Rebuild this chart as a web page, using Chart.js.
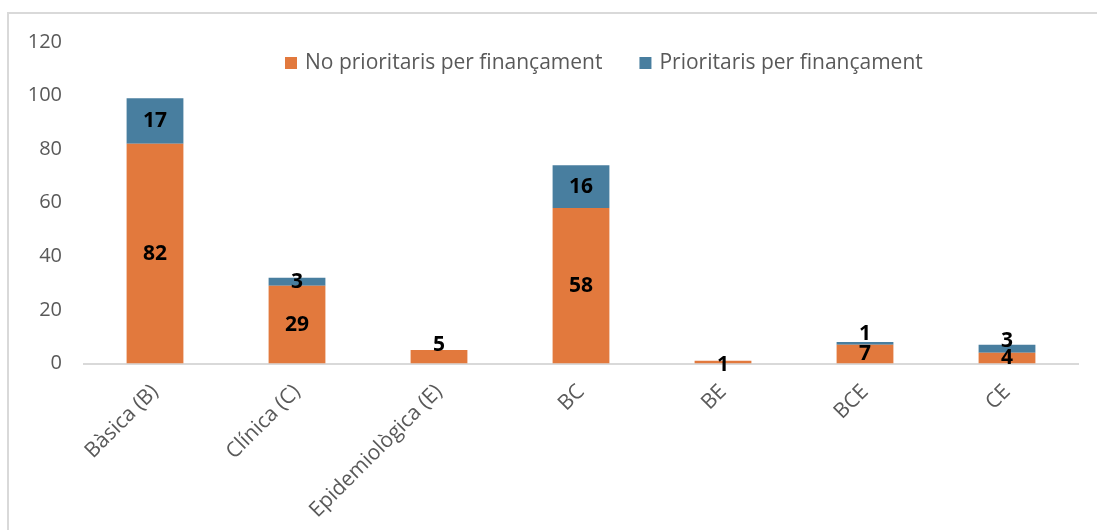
<!DOCTYPE html>
<html lang="ca">
<head>
  <meta charset="UTF-8">
  <title>Projectes per tipus de recerca</title>
  <script src="https://cdn.jsdelivr.net/npm/chart.js"></script>
  <style>
    html, body { margin: 0; padding: 0; background: #fff; overflow: hidden; }
    .marc { position: absolute; left: 7px; top: 12px; width: 1200px; height: 700px; border: 2px solid #d9d9d9; }
    .caixa { position: absolute; left: 0; top: 0; width: 1097px; height: 531px; }
  </style>
</head>
<body>
  <div class="marc"></div>
  <div class="caixa"><canvas id="grafic"></canvas></div>

  <script>
    const categories = ['Bàsica (B)', 'Clínica (C)', 'Epidemiològica (E)', 'BC', 'BE', 'BCE', 'CE'];
    const noPrioritaris = [82, 29, 5, 58, 1, 7, 4];
    const prioritaris = [17, 3, 0, 16, 0, 1, 3];
    const nomsSeries = ['No prioritaris per finançament', 'Prioritaris per finançament'];

    const taronja = '#e2793d';
    const blau = '#487e9f';
    const grisText = '#595959';

    // desplaçament vertical de les etiquetes petites (px)
    const despl = [
      [0, 0, -12, 0, 3, 0, 0],
      [0, 0, 0, 0, 0, -9, -8]
    ];

    // etiquetes de valor i llegenda dibuixades a mà
    const etiquetes = {
      id: 'etiquetes',
      afterDatasetsDraw(chart) {
        const ctx = chart.ctx;
        const area = chart.chartArea;
        ctx.save();
        ctx.font = 'bold 21px "Open Sans"';
        ctx.fillStyle = '#000';
        ctx.textAlign = 'center';
        ctx.textBaseline = 'middle';
        chart.data.datasets.forEach((ds, i) => {
          chart.getDatasetMeta(i).data.forEach((bar, j) => {
            const v = ds.data[j];
            if (!v) return;
            const mig = (bar.y + bar.base) / 2;
            ctx.fillText(v, bar.x, mig + despl[i][j]);
          });
        });

        // llegenda
        ctx.font = '21px "Open Sans"';
        ctx.textAlign = 'left';
        let x = area.left + 201;
        const y = area.top + 21;
        chart.data.datasets.forEach((ds) => {
          ctx.fillStyle = ds.backgroundColor;
          ctx.fillRect(x, y - 6, 12, 12);
          x += 20;
          ctx.fillStyle = grisText;
          ctx.fillText(ds.label, x, y);
          x += ctx.measureText(ds.label).width + 37;
        });
        ctx.restore();
      }
    };

    new Chart(document.getElementById('grafic'), {
      type: 'bar',
      data: {
        labels: categories,
        datasets: [
          {
            label: nomsSeries[0],
            data: noPrioritaris,
            backgroundColor: taronja,
            barPercentage: 0.8,
            categoryPercentage: 0.5
          },
          {
            label: nomsSeries[1],
            data: prioritaris,
            backgroundColor: blau,
            barPercentage: 0.8,
            categoryPercentage: 0.5
          }
        ]
      },
      options: {
        responsive: true,
        maintainAspectRatio: false,
        animation: false,
        layout: { autoPadding: false, padding: { top: 42, right: 19, left: 29, bottom: 0 } },
        plugins: {
          legend: { display: false },
          tooltip: { enabled: false }
        },
        scales: {
          x: {
            stacked: true,
            grid: { display: false },
            border: { display: true, color: '#d9d9d9', width: 2 },
            ticks: {
              color: grisText,
              font: { family: 'Open Sans', size: 21 },
              minRotation: 45,
              maxRotation: 45,
              padding: 8
            },
            // el primer rètol girat no ha d'empènyer l'àrea
            afterFit(scale) {
              scale.paddingLeft = 0;
              scale.paddingRight = 0;
            }
          },
          y: {
            stacked: true,
            min: 0,
            max: 120,
            grid: { display: false, drawTicks: false },
            border: { display: false },
            ticks: {
              stepSize: 20,
              color: grisText,
              font: { family: 'Open Sans', size: 20 },
              padding: 22
            },
            afterFit(scale) {
              scale.width = 55;
            }
          }
        }
      },
      plugins: [etiquetes]
    });
  </script>
</body>
</html>
